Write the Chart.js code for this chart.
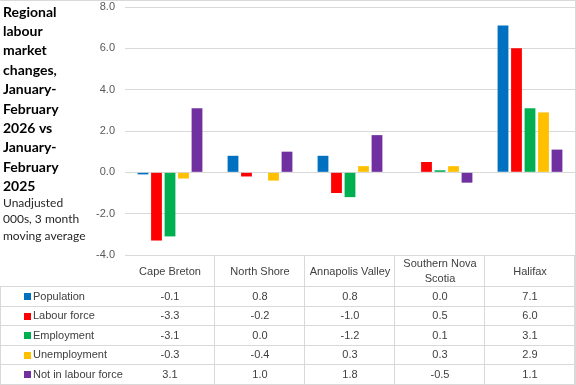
<!DOCTYPE html>
<html>
<head>
<meta charset="utf-8">
<script src="https://cdn.jsdelivr.net/npm/chart.js@4"></script>
<style>
  html, body { margin: 0; padding: 0; background: #ffffff; }
  #wrap { width: 576px; height: 385px; }
</style>
</head>
<body>
<div id="wrap"><canvas id="regionChart" width="576" height="385"></canvas></div>
<script>
(function(){
    "use strict";

    // Regions on the category axis (an array means a wrapped header)
    const regions = ['Cape Breton', 'North Shore', 'Annapolis Valley', ['Southern Nova', 'Scotia'], 'Halifax'];

    // Changes in thousands, one value per region
    const population       = [-0.1,  0.8,  0.8, 0.0, 7.1];
    const labourForce      = [-3.3, -0.2, -1.0, 0.5, 6.0];
    const employment       = [-3.1,  0.0, -1.2, 0.1, 3.1];
    const unemployment     = [-0.3, -0.4,  0.3, 0.3, 2.9];
    const notInLabourForce = [ 3.1,  1.0,  1.8, -0.5, 1.1];

    const yTicks = [-4, -2, 0, 2, 4, 6, 8];

    const titleLines = ['Regional', 'labour', 'market', 'changes,', 'January-', 'February', '2026 vs', 'January-', 'February', '2025'];
    const subtitleLines = ['Unadjusted', '000s, 3 month', 'moving average'];

    const LINE = '#d9d9d9';
    const TEXT = '#404040';

    /**
     * Draws the title block on the left and the Excel-style data table under the plot.
     */
    const tablePlugin = {
        id: 'tablePlugin',
        afterDraw(chart) {
            const ctx = chart.ctx;
            const xs = chart.scales.x;
            const area = chart.chartArea;
            const half = (xs.getPixelForValue(1) - xs.getPixelForValue(0)) / 2;
            const headerTop = area.bottom;
            const rowTop = headerTop + 32;
            const rowH = 19.5;
            const sets = chart.data.datasets;

            ctx.save();

            // title + subtitle
            ctx.fillStyle = '#000000';
            ctx.textAlign = 'left';
            ctx.textBaseline = 'middle';
            ctx.font = 'bold 14px Lato';
            titleLines.forEach((t, i) => ctx.fillText(t, 3, 12 + i * 19.4));
            ctx.font = '12px Lato';
            ctx.fillStyle = '#262626';
            subtitleLines.forEach((t, i) => ctx.fillText(t, 3, 203 + i * 16.5));

            // grid lines of the table
            ctx.strokeStyle = LINE;
            ctx.lineWidth = 1;
            ctx.beginPath();
            ctx.moveTo(0, 0.5); ctx.lineTo(576, 0.5);               // chart border top
            ctx.moveTo(575.5, 0); ctx.lineTo(575.5, 385);           // chart border right
            ctx.moveTo(0.5, Math.round(rowTop)); ctx.lineTo(0.5, Math.round(rowTop + 5 * rowH));
            for (let r = 0; r <= sets.length; r++) {
                const y = Math.round(rowTop + r * rowH) - 0.5;
                ctx.moveTo(0, y); ctx.lineTo(576, y);
            }
            regions.forEach((_, i) => {
                const x = Math.round(xs.getPixelForValue(i) + half) - 0.5;
                ctx.moveTo(x, headerTop); ctx.lineTo(x, rowTop + 5 * rowH);
            });
            ctx.stroke();

            // header labels
            ctx.fillStyle = TEXT;
            ctx.textAlign = 'center';
            ctx.font = '11px "Liberation Sans"';
            regions.forEach((label, i) => {
                const cx = xs.getPixelForValue(i);
                const lines = Array.isArray(label) ? label : [label];
                const mid = headerTop + 16.5;
                lines.forEach((l, j) => {
                    ctx.fillText(l, cx, mid + (j - (lines.length - 1) / 2) * 15.5);
                });
            });

            // one row per series: key, name, values
            sets.forEach((ds, r) => {
                const cy = rowTop + r * rowH + rowH / 2;
                ctx.fillStyle = ds.backgroundColor;
                ctx.fillRect(24, Math.round(cy - 3.5), 7, 7);
                ctx.fillStyle = TEXT;
                ctx.textAlign = 'left';
                ctx.fillText(ds.label, 33, cy);
                ctx.textAlign = 'center';
                ds.data.forEach((v, i) => {
                    ctx.fillText(v.toFixed(1), xs.getPixelForValue(i), cy);
                });
            });

            ctx.restore();
        }
    };

    function createChart() {
        const ctx = document.getElementById('regionChart').getContext('2d');
        return new Chart(ctx, {
            type: 'bar',
            data: {
                labels: regions,
                datasets: [
                    { label: 'Population', data: population, backgroundColor: '#0070C0' },
                    { label: 'Labour force', data: labourForce, backgroundColor: '#FF0000' },
                    { label: 'Employment', data: employment, backgroundColor: '#00B050' },
                    { label: 'Unemployment', data: unemployment, backgroundColor: '#FFC000' },
                    { label: 'Not in labour force', data: notInLabourForce, backgroundColor: '#7030A0' }
                ]
            },
            options: {
                responsive: false,
                animation: false,
                devicePixelRatio: 1,
                datasets: {
                    bar: {
                        barPercentage: 0.8,
                        categoryPercentage: 0.75,
                        borderWidth: 0
                    }
                },
                layout: {
                    padding: { left: 85, right: 1, top: 7, bottom: 130 }
                },
                scales: {
                    x: {
                        display: false
                    },
                    y: {
                        min: yTicks[0],
                        max: yTicks[yTicks.length - 1],
                        afterBuildTicks: (scale) => {
                            scale.ticks = yTicks.map(v => ({ value: v }));
                        },
                        afterFit: (scale) => {
                            scale.width = 40;
                            scale.paddingTop = 0;
                            scale.paddingBottom = 0;
                        },
                        grid: {
                            color: LINE,
                            drawTicks: false
                        },
                        border: { display: false },
                        ticks: {
                            padding: 10,
                            color: '#595959',
                            font: { family: '"Liberation Sans"', size: 11 },
                            callback: (v) => Number(v).toFixed(1)
                        }
                    }
                },
                plugins: {
                    legend: { display: false },
                    tooltip: { enabled: false }
                }
            },
            plugins: [tablePlugin]
        });
    }

    createChart();

})();
</script>
</body>
</html>
